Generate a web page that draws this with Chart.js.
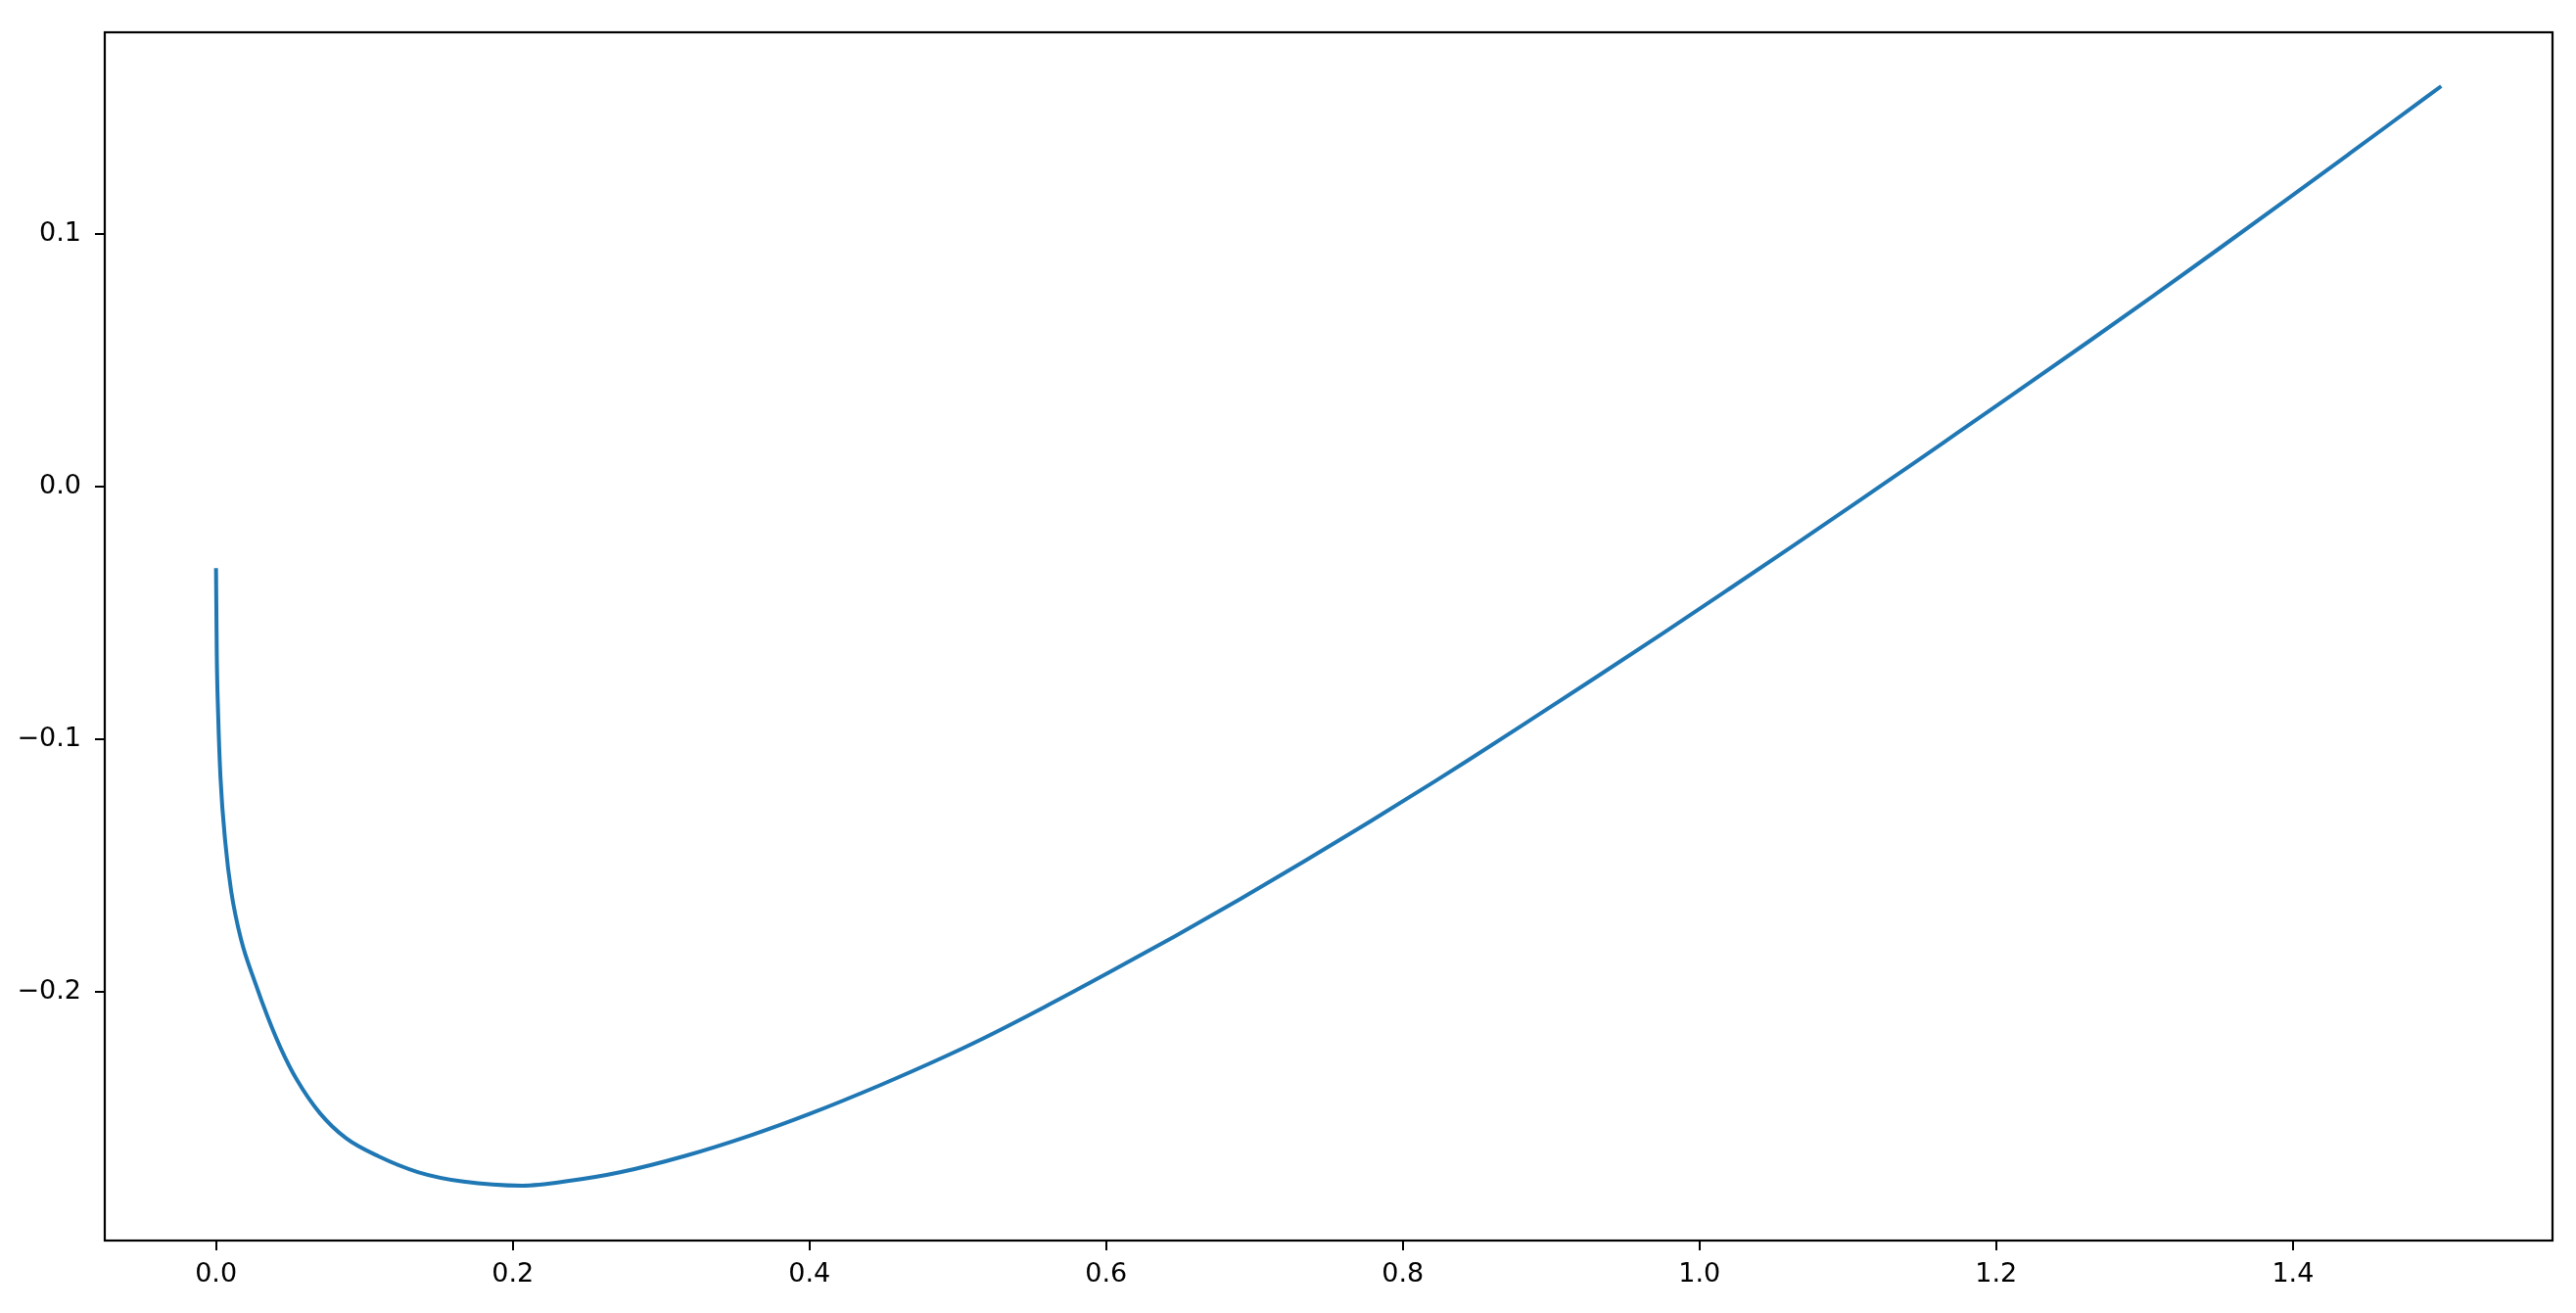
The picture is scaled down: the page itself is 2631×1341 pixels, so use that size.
<!DOCTYPE html>
<html>
<head>
<meta charset="utf-8">
<script src="https://cdn.jsdelivr.net/npm/chart.js@4"></script>
<style>
  html, body { margin: 0; padding: 0; background: #fff; }
  #wrap { width: 2631px; height: 1341px; }
</style>
</head>
<body>
<div id="wrap"><canvas id="curveChart"></canvas></div>
<script>
// values
const xValues = [
  0, 0.0005, 0.0014, 0.003, 0.0063, 0.0102, 0.0168, 0.0265, 0.0348, 0.0437,
  0.0546, 0.070, 0.0876, 0.1096, 0.136, 0.1668, 0.2063, 0.2393, 0.2723, 0.3163,
  0.3603, 0.4005, 0.4482, 0.4922, 0.5142, 0.5582, 0.6021, 0.6461, 0.6901, 0.734,
  0.778, 0.822, 0.844, 0.888, 0.932, 0.976, 1.02, 1.0639, 1.1079, 1.1518,
  1.1738, 1.2178, 1.2617, 1.3057, 1.3497, 1.3937, 1.4377, 1.4817, 1.5
];
const yValues = [
  -0.0323, -0.066, -0.0895, -0.115, -0.141, -0.160, -0.179, -0.1965, -0.2098, -0.2223,
  -0.2348, -0.2479, -0.2578, -0.265, -0.2712, -0.275, -0.2766, -0.2746, -0.2713, -0.2648,
  -0.2567, -0.2481, -0.2367, -0.2253, -0.2192, -0.206, -0.1922, -0.178, -0.1633, -0.1481,
  -0.1325, -0.1165, -0.1083, -0.0916, -0.0748, -0.0578, -0.0405, -0.0231, -0.0055, 0.0122,
  0.0212, 0.0391, 0.0571, 0.0754, 0.0939, 0.1126, 0.1315, 0.1505, 0.1584
];
const xTicks = [0, 0.2, 0.4, 0.6, 0.8, 1.0, 1.2, 1.4];
const yTicks = [-0.2, -0.1, 0.0, 0.1];

const fmt = v => v.toFixed(1).replace('-', '\u2212');

// matplotlib style full box around the plot area
const frame = {
  id: 'frame',
  afterDraw(chart) {
    const { ctx, chartArea: a } = chart;
    ctx.save();
    ctx.strokeStyle = '#000';
    ctx.lineWidth = 2.2;
    ctx.strokeRect(a.left, a.top, a.right - a.left, a.bottom - a.top);
    ctx.restore();
  }
};

Chart.defaults.font.family = '"DejaVu Sans", sans-serif';
Chart.defaults.font.size = 27;
Chart.defaults.color = '#000';

new Chart(document.getElementById('curveChart'), {
  type: 'scatter',
  data: {
    datasets: [{
      data: xValues.map((x, i) => ({ x: x, y: yValues[i] })),
      showLine: true,
      borderColor: '#1f77b4',
      borderWidth: 4,
      pointRadius: 0,
      cubicInterpolationMode: 'monotone'
    }]
  },
  options: {
    responsive: true,
    maintainAspectRatio: false,
    animation: false,
    layout: { padding: { top: 33, right: 24, left: 0, bottom: 0 } },
    plugins: { legend: { display: false }, tooltip: { enabled: false } },
    scales: {
      x: {
        type: 'linear',
        min: -0.075,
        max: 1.575,
        afterBuildTicks: s => { s.ticks = xTicks.map(v => ({ value: v })); },
        afterFit: s => { s.height = 74; },
        border: { display: false },
        grid: { drawOnChartArea: false, tickLength: 10, color: '#000', lineWidth: 2 },
        ticks: { padding: 9, maxRotation: 0, callback: v => fmt(v) }
      },
      y: {
        type: 'linear',
        min: -0.2983,
        max: 0.1797,
        afterBuildTicks: s => { s.ticks = yTicks.map(v => ({ value: v })); },
        afterFit: s => { s.width = 107; },
        border: { display: false },
        grid: { drawOnChartArea: false, tickLength: 10, color: '#000', lineWidth: 2 },
        ticks: { padding: 14, callback: v => fmt(v) }
      }
    }
  },
  plugins: [frame]
});
</script>
</body>
</html>
